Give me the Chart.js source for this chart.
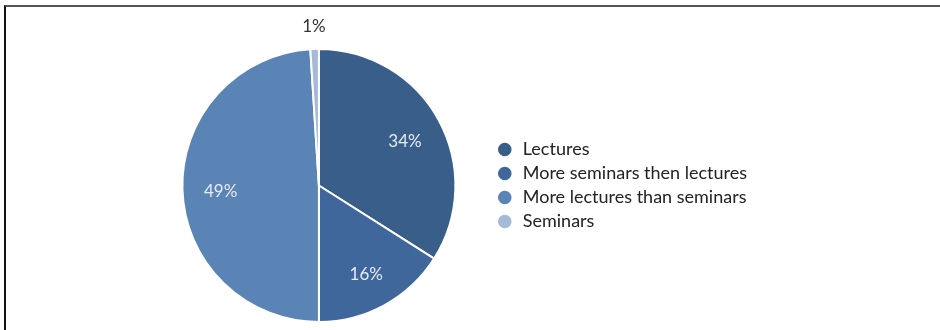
<!DOCTYPE html>
<html>
<head>
<meta charset="utf-8">
<script src="https://cdn.jsdelivr.net/npm/chart.js@4/dist/chart.umd.min.js"></script>
<style>
  html, body { margin: 0; padding: 0; background: #fff; }
  #wrap { position: relative; width: 940px; height: 330px; overflow: hidden; }
  #frame { position: absolute; left: 4px; top: 5px; width: 936px; height: 330px;
           border-top: 2px solid #555; border-left: 2px solid #111; box-sizing: border-box; }
  canvas { position: absolute; left: 0; top: 0; }
</style>
</head>
<body>
<div id="wrap">
  <div id="frame"></div>
  <canvas id="pie" width="940" height="330"></canvas>
</div>
<script>
const categories = ["Lectures", "More seminars then lectures", "More lectures than seminars", "Seminars"];
const shares = [34, 16, 49, 1];
const sliceColors = ["#3a5e8a", "#3f679b", "#5b84b6", "#a5b9d9"];

// percentage labels on the slices, the tiny one goes outside
const sliceLabels = {
  id: "sliceLabels",
  afterDatasetsDraw(chart) {
    const ctx = chart.ctx;
    const meta = chart.getDatasetMeta(0);
    ctx.save();
    ctx.font = "17px Lato";
    ctx.textAlign = "center";
    ctx.textBaseline = "middle";
    meta.data.forEach((arc, i) => {
      const p = arc.getProps(["x", "y", "startAngle", "endAngle", "outerRadius"], true);
      const mid = (p.startAngle + p.endAngle) / 2;
      const outside = shares[i] < 5;
      const r = outside ? p.outerRadius + 23 : p.outerRadius * 0.72;
      ctx.fillStyle = outside ? "#333" : "#e6ebf2";
      ctx.fillText(shares[i] + "%", p.x + Math.cos(mid) * r, p.y + Math.sin(mid) * r + (outside ? 0 : 3));
    });
    ctx.restore();
  }
};

new Chart(document.getElementById("pie"), {
  type: "pie",
  data: {
    labels: categories,
    datasets: [{
      data: shares,
      backgroundColor: sliceColors,
      borderColor: "#fff",
      borderWidth: 2
    }]
  },
  options: {
    responsive: false,
    animation: false,
    layout: { padding: { top: 48, bottom: 7, left: 148, right: 183 } },
    plugins: {
      tooltip: { enabled: false },
      legend: {
        position: "right",
        labels: {
          usePointStyle: true,
          pointStyle: "circle",
          boxWidth: 18,
          boxHeight: 11,
          padding: 6,
          color: "#222",
          font: { family: "Lato", size: 18 }
        }
      }
    }
  },
  plugins: [sliceLabels]
});
</script>
</body>
</html>
